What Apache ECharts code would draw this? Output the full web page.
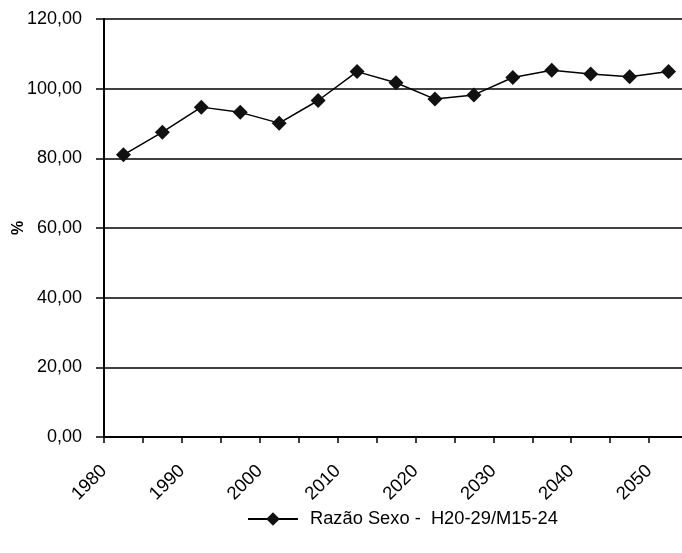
<!DOCTYPE html>
<html>
<head>
<meta charset="utf-8">
<script src="https://cdn.jsdelivr.net/npm/echarts@6/dist/echarts.min.js"></script>
<style>html,body{margin:0;padding:0;background:#fff;}#c{width:682px;height:553px;}</style>
</head>
<body>
<div id="c"></div>
<script>
// 5-year periods (start years) and their ratio values
const periodStarts = [1980, 1985, 1990, 1995, 2000, 2005, 2010, 2015, 2020, 2025, 2030, 2035, 2040, 2045, 2050];
const ratioValues = [81.0, 87.5, 94.7, 93.2, 90.1, 96.6, 104.9, 101.7, 97.0, 98.2, 103.2, 105.3, 104.2, 103.4, 104.9];
const seriesName = 'Razão Sexo -  H20-29/M15-24';
const yTicks = [0, 20, 40, 60, 80, 100, 120];

const FONT = '"Liberation Sans", Arial, Helvetica, sans-serif';
const data = periodStarts.map((s, i) => [s + 2.5, ratioValues[i]]);

const chart = echarts.init(document.getElementById('c'), null, {renderer: 'canvas'});
chart.setOption({
  animation: false,
  backgroundColor: '#fff',
  grid: {left: 104, top: 19, width: 584, height: 418, containLabel: false, outerBoundsMode: 'none'},
  legend: {
    left: 242, top: 505,
    itemWidth: 50, itemHeight: 17, itemGap: 10,
    textStyle: {fontFamily: FONT, fontSize: 18.3, color: '#000', padding: [0, 0, 0, 7]},
    data: [seriesName]
  },
  xAxis: {
    type: 'value', min: 1980, max: 2055, interval: 5,
    axisLine: {show: true, lineStyle: {color: '#000', width: 2}},
    axisTick: {show: true, inside: false, length: 6, lineStyle: {color: '#000', width: 1.5}},
    splitLine: {show: false},
    axisLabel: {
      rotate: 45, margin: 31, color: '#000', fontFamily: FONT, fontSize: 18.5,
      formatter: v => (v % 10 === 0 ? String(v) : ''),
      showMaxLabel: false
    }
  },
  yAxis: {
    type: 'value', min: yTicks[0], max: yTicks[yTicks.length - 1], interval: 20,
    name: '%', nameLocation: 'middle', nameGap: 77, nameRotate: 90, nameMoveOverlap: false,
    nameTextStyle: {fontFamily: FONT, fontSize: 16, fontWeight: 'bold', color: '#000'},
    axisLine: {show: true, lineStyle: {color: '#000', width: 2}},
    axisTick: {show: true, inside: false, length: 8, lineStyle: {color: '#000', width: 1.5}},
    splitLine: {show: true, lineStyle: {color: '#000', width: 1.5}},
    axisLabel: {
      margin: 22, color: '#000', fontFamily: FONT, fontSize: 18,
      formatter: v => v.toFixed(2).replace('.', ',')
    }
  },
  series: [{
    name: seriesName,
    type: 'line',
    data: data,
    symbol: 'diamond',
    symbolSize: 15,
    itemStyle: {color: '#111'},
    lineStyle: {color: '#000', width: 1.5},
    showSymbol: true
  }]
});
</script>
</body>
</html>
